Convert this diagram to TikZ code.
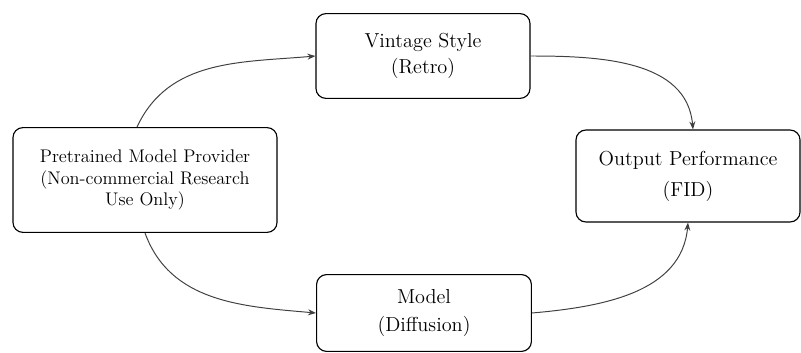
\documentclass[tikz,border=0pt]{standalone}
\usetikzlibrary{arrows.meta}

\begin{document}
\begin{tikzpicture}
    [
      x=0.025cm, y=-0.025cm,
      BOX/.style={rectangle, rounded corners=2.5mm, draw=black, fill=white, line width=0.8pt, align=center, font=\Large},
      FLOW/.style={-{Stealth[length=2mm]}, line width=0.7pt, black!75},
    ]

    \useasboundingbox (0,0) rectangle (801,353);

    \node[BOX, minimum width=5.35cm, minimum height=2.12cm] (style) at (423,56) {Vintage Style \\ (Retro)};
    \node[BOX, minimum width=6.6cm, minimum height=2.62cm, font=\fontsize{13}{15}\selectfont] (provider) at (145,180) {Pretrained Model Provider \\ (Non-commercial Research \\ Use Only)};
    \node[BOX, minimum width=5.6cm, minimum height=2.3cm] (output) at (688,176) {Output Performance \\[4pt] (FID)};
    \node[BOX, minimum width=5.37cm, minimum height=1.92cm] (model) at (424,313) {Model \\[2pt] (Diffusion)};

    \draw[FLOW] ([xshift=-2mm]provider.north) to[out=65, in=185] (style.west);
    \draw[FLOW] (style.east) to[out=0, in=95] ([xshift=1.25mm]output.north);
    \draw[FLOW] (provider.south) to[out=-70, in=175] (model.west);
    \draw[FLOW] (model.east) to[out=5, in=-95] (output.south);

\end{tikzpicture}
\end{document}
